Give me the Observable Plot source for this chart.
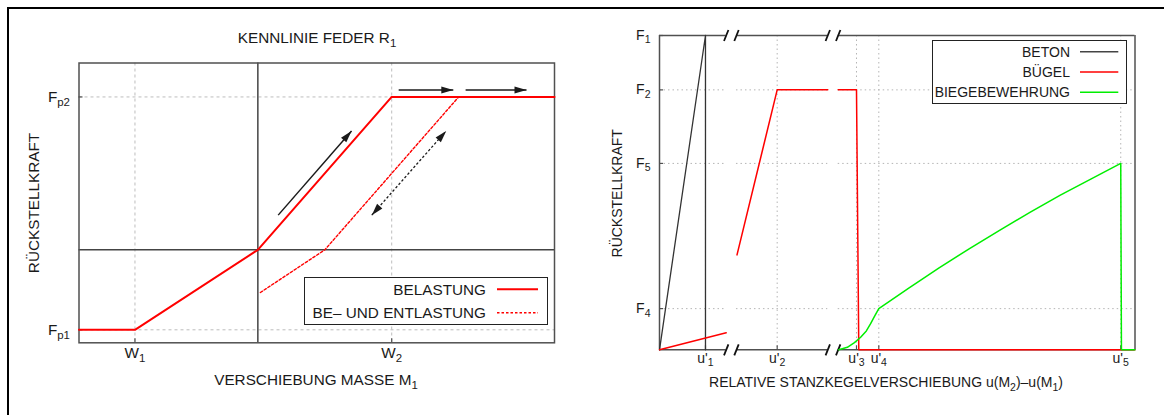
<!DOCTYPE html>
<html>
<head>
<meta charset="utf-8">
<script src="https://cdn.jsdelivr.net/npm/d3@7"></script>
<script src="https://cdn.jsdelivr.net/npm/@observablehq/plot@0.6"></script>
<style>
  html, body { margin: 0; padding: 0; background: #fff; }
  #page { position: relative; width: 1164px; height: 415px; overflow: hidden; background: #fff;
          font-family: "Liberation Sans", Arial, Helvetica, sans-serif; }
  #border { position: absolute; left: 7px; top: 7px; right: -10px; bottom: -10px;
            border-top: 2px solid #000; border-left: 2px solid #000; pointer-events: none; }
  #left, #right { position: absolute; top: 0; }
  #left { left: 0; }
  #right { left: 580px; }
  svg { display: block; }
</style>
</head>
<body>
<div id="page">
  <div id="left"></div>
  <div id="right"></div>
  <div id="border"></div>
</div>
<script>
// ---------- Kennlinie Feder R1 (displacement unit: W2 = 1, force unit: Fp2 = 1) ----------
const W1 = -0.918, W2 = 1;
const Fp1 = -0.523, Fp2 = 1;
const leftXDomain = [-1.336, 2.216];
const leftYDomain = [-0.608, 1.222];
const leftXTicks = [W1, W2];
const leftXTickLabels = ["W_1", "W_2"];
const leftYTicks = [Fp1, Fp2];
const leftYTickLabels = ["F_{p1}", "F_{p2}"];
// Belastung (loading path)
const belastungX = [-1.336, W1, 0, W2, 2.216];
const belastungY = [Fp1, Fp1, 0, Fp2, Fp2];
// Be- und Entlastung (loading / unloading path)
const entlastungX = [0.019, 0.5, 1.5];
const entlastungY = [-0.279, 0, 1];
// direction arrows [x1, y1, x2, y2]
const loadArrows = [[0.152, 0.227, 0.70, 0.778], [1.052, 1.046, 1.46, 1.046], [1.552, 1.046, 2.007, 1.046]];
const cycleArrows = [[0.851, 0.227, 1.407, 0.778]];

// ---------- Stanzkegel springs (broken x axis, force F1 = 100) ----------
const rightXDomain = [0, 100];
const rightYDomain = [0, 100];
const rightXTicks = [9.67, 24.75, 41.43, 46.12, 97.0];
const rightXTickLabels = ["u'_1", "u'_2", "u'_3", "u'_4", "u'_5"];
const rightYTicks = [100, 82.7, 59.3, 13.1];
const rightYTickLabels = ["F_1", "F_2", "F_5", "F_4"];
const axisBreaks = [[14.03, 16.19], [35.39, 37.58]];
// Beton
const betonX = [0, 9.67, 9.67];
const betonY = [0, 100, 0];
// Bügel (three pieces separated by the axis breaks)
const buegelPiece = [0, 0, 1, 1, 1, 2, 2, 2, 2];
const buegelX = [0, 14.03, 16.3, 24.75, 35.39, 37.58, 41.43, 41.91, 100];
const buegelY = [0, 5.4, 30.2, 82.7, 82.7, 82.7, 82.7, 0, 0];
// Biegebewehrung
const biegeX = [37.71, 39.5, 41.0, 42.3, 43.5, 44.4, 45.3, 46.12, 52.5, 58.8, 65.2, 71.6, 77.9, 84.3, 90.7, 97.0, 97.15, 100];
const biegeY = [0, 0.8, 2.3, 4.0, 6.0, 8.3, 10.9, 13.1, 19.7, 26.1, 32.2, 38.1, 43.7, 49.2, 54.3, 59.3, 0, 0];

// ---------- styling ----------
const ink = "#1a1a1a";
const frameInk = "#505050";
const red = "#ff0000";
const green = "#00ee00";
const fontFamily = '"Liberation Sans", Arial, Helvetica, sans-serif';

const zip = (xs, ys, extra = {}) => xs.map((x, i) => {
  const o = {x, y: ys[i]};
  for (const k in extra) o[k] = extra[k][i];
  return o;
});
const labelled = (vals, labels, key) => vals.map((v, i) => ({[key]: v, label: labels[i]}));

// filled arrow head used as a line marker
function arrowHead(color) {
  const m = d3.create("svg:marker")
    .attr("viewBox", "-12 -3.5 12 7")
    .attr("markerWidth", 12)
    .attr("markerHeight", 7)
    .attr("markerUnits", "userSpaceOnUse")
    .attr("refX", 0)
    .attr("refY", 0)
    .attr("orient", "auto-start-reverse")
    .attr("overflow", "visible");
  m.append("path").attr("d", "M-12,-3.5L0,0L-12,3.5Z").attr("fill", color).attr("stroke", "none");
  return m.node();
}

// short slanted stroke marking an axis break
const slashSymbol = {
  draw(context) {
    context.moveTo(-2.2, 5.5);
    context.lineTo(2.2, -5.5);
  }
};

// turn "X_1" / "X_{p2}" into real subscripts
function applySubscripts(svg, shift) {
  d3.select(svg).selectAll("text").each(function () {
    const t = this.textContent;
    if (!t.includes("_")) return;
    const parts = t.split(/(_\{[^}]*\}|_.)/).filter(s => s !== "");
    const el = d3.select(this);
    el.text(null);
    let lowered = false;
    for (const p of parts) {
      if (p.startsWith("_")) {
        const s = p.startsWith("_{") ? p.slice(2, -1) : p.slice(1);
        el.append("tspan").attr("font-size", "0.75em").attr("dy", lowered ? 0 : shift).text(s);
        lowered = true;
      } else {
        el.append("tspan").attr("dy", lowered ? -shift : 0).text(p);
        lowered = false;
      }
    }
  });
}

function addText(svg, {x, y, text, size, anchor = "middle", rotate = 0}) {
  d3.select(svg).append("text")
    .attr("transform", `translate(${x},${y})` + (rotate ? ` rotate(${rotate})` : ""))
    .attr("text-anchor", anchor)
    .attr("font-size", size)
    .attr("fill", ink)
    .text(text);
}

function drawLegend(svg, box, rows, size) {
  const g = d3.select(svg).append("g");
  g.append("rect")
    .attr("x", box.x).attr("y", box.y).attr("width", box.w).attr("height", box.h)
    .attr("fill", "#fff").attr("stroke", "#222").attr("stroke-width", 1);
  for (const r of rows) {
    g.append("text")
      .attr("x", box.textEnd).attr("y", r.y + 0.355 * size)
      .attr("text-anchor", "end").attr("font-size", size).attr("fill", ink)
      .text(r.label);
    g.append("line")
      .attr("x1", box.s1).attr("x2", box.s2).attr("y1", r.y).attr("y2", r.y)
      .attr("stroke", r.color).attr("stroke-width", r.width)
      .attr("stroke-dasharray", r.dash || null);
  }
}

// ================= left chart =================
{
  const L = {w: 580, h: 415, ml: 78.5, mr: 26, mt: 62.5, mb: 72.7};
  const pw = L.w - L.ml - L.mr, ph = L.h - L.mt - L.mb;
  const fs = 15.3;
  const svg = Plot.plot({
    width: L.w, height: L.h,
    marginLeft: L.ml, marginRight: L.mr, marginTop: L.mt, marginBottom: L.mb,
    x: {domain: leftXDomain, axis: null},
    y: {domain: leftYDomain, axis: null},
    style: {fontFamily, background: "transparent", color: ink, overflow: "visible"},
    marks: [
      Plot.ruleX(leftXTicks, {stroke: "#bdbdbd", strokeWidth: 1, strokeDasharray: "3,3"}),
      Plot.ruleY(leftYTicks, {stroke: "#bdbdbd", strokeWidth: 1, strokeDasharray: "3,3"}),
      Plot.ruleX([0], {stroke: "#444", strokeWidth: 1.5}),
      Plot.ruleY([0], {stroke: "#444", strokeWidth: 1.5}),
      Plot.frame({stroke: frameInk, strokeWidth: 1.5}),
      Plot.ruleX(leftXTicks, {stroke: frameInk, strokeWidth: 1.2, insetTop: ph - 4}),
      Plot.ruleY(leftYTicks, {stroke: frameInk, strokeWidth: 1.2, insetRight: pw - 4}),
      Plot.line(zip(belastungX, belastungY), {x: "x", y: "y", stroke: red, strokeWidth: 2}),
      Plot.line(zip(entlastungX, entlastungY), {x: "x", y: "y", stroke: red, strokeWidth: 1.4, strokeDasharray: "2.5,2"}),
      Plot.link(loadArrows, {x1: d => d[0], y1: d => d[1], x2: d => d[2], y2: d => d[3],
        stroke: ink, strokeWidth: 1.5, markerEnd: arrowHead}),
      Plot.link(cycleArrows, {x1: d => d[0], y1: d => d[1], x2: d => d[2], y2: d => d[3],
        stroke: ink, strokeWidth: 1.3, strokeDasharray: "2.5,2", markerStart: arrowHead, markerEnd: arrowHead}),
      Plot.text(labelled(leftXTicks, leftXTickLabels, "x"), {x: "x", text: "label", frameAnchor: "bottom",
        dy: 15.5, fontSize: fs, fill: ink}),
      Plot.text(labelled(leftYTicks, leftYTickLabels, "y"), {y: "y", text: "label", frameAnchor: "left",
        textAnchor: "end", dx: -9, fontSize: fs, fill: ink})
    ]
  });
  addText(svg, {x: 317, y: 43.3, text: "KENNLINIE FEDER R_1", size: fs});
  addText(svg, {x: 316, y: 385, text: "VERSCHIEBUNG MASSE M_1", size: fs});
  addText(svg, {x: 39, y: 203, text: "RÜCKSTELLKRAFT", size: fs, rotate: -90});
  drawLegend(svg, {x: 304.5, y: 277.5, w: 243, h: 47, textEnd: 486, s1: 497, s2: 538}, [
    {label: "BELASTUNG", y: 289.3, color: red, width: 2},
    {label: "BE– UND ENTLASTUNG", y: 312.8, color: red, width: 1.4, dash: "2.5,2"}
  ], fs);
  applySubscripts(svg, 4);
  document.getElementById("left").appendChild(svg);
}

// ================= right chart =================
{
  const R = {w: 584, h: 415, ml: 79, mr: 29.5, mt: 35, mb: 65.7};
  const pw = R.w - R.ml - R.mr, ph = R.h - R.mt - R.mb;
  const fs = 14;
  const [xmin, xmax] = rightXDomain;
  const [ymin, ymax] = rightYDomain;
  // continuous pieces of the broken axis
  const pieces = [];
  let start = xmin;
  for (const [a, b] of axisBreaks) { pieces.push([start, a]); start = b; }
  pieces.push([start, xmax]);
  const gridRows = rightYTicks.filter(v => v !== ymax).flatMap(y => pieces.map(([a, b]) => ({y, a, b})));
  const slashes = axisBreaks.flatMap(([a, b]) => [a, b]).flatMap(x => [{x, y: ymin}, {x, y: ymax}]);

  const svg = Plot.plot({
    width: R.w, height: R.h,
    marginLeft: R.ml, marginRight: R.mr, marginTop: R.mt, marginBottom: R.mb,
    x: {domain: rightXDomain, axis: null},
    y: {domain: rightYDomain, axis: null},
    style: {fontFamily, background: "transparent", color: ink, overflow: "visible"},
    marks: [
      Plot.ruleX(rightXTicks, {stroke: "#b5b5b5", strokeWidth: 1, strokeDasharray: "1.5,3"}),
      Plot.ruleY(gridRows, {y: "y", x1: "a", x2: "b", stroke: "#b5b5b5", strokeWidth: 1, strokeDasharray: "1.5,3"}),
      // frame: solid sides, broken top and bottom
      Plot.ruleX([xmin, xmax], {stroke: frameInk, strokeWidth: 1.5}),
      Plot.ruleY(pieces, {x1: d => d[0], x2: d => d[1], y: ymin, stroke: frameInk, strokeWidth: 1.5}),
      Plot.ruleY(pieces, {x1: d => d[0], x2: d => d[1], y: ymax, stroke: frameInk, strokeWidth: 1.5}),
      Plot.ruleX(rightXTicks, {stroke: frameInk, strokeWidth: 1.2, insetTop: ph - 4}),
      Plot.ruleY(rightYTicks, {stroke: frameInk, strokeWidth: 1.2, insetRight: pw - 4}),
      Plot.dot(slashes, {x: "x", y: "y", symbol: slashSymbol, fill: "none", stroke: "#111", strokeWidth: 1.8}),
      Plot.line(zip(betonX, betonY), {x: "x", y: "y", stroke: "#333", strokeWidth: 1.3}),
      Plot.line(zip(buegelX, buegelY, {piece: buegelPiece}), {x: "x", y: "y", z: "piece", stroke: red, strokeWidth: 1.5}),
      Plot.line(zip(biegeX, biegeY), {x: "x", y: "y", stroke: green, strokeWidth: 1.5}),
      Plot.text(labelled(rightXTicks, rightXTickLabels, "x"), {x: "x", text: "label", frameAnchor: "bottom",
        dy: 13, fontSize: fs, fill: ink}),
      Plot.text(labelled(rightYTicks, rightYTickLabels, "y"), {y: "y", text: "label", frameAnchor: "left",
        textAnchor: "end", dx: -9, fontSize: fs, fill: ink})
    ]
  });
  addText(svg, {x: 306, y: 387, text: "RELATIVE STANZKEGELVERSCHIEBUNG u(M_2)–u(M_1)", size: fs});
  addText(svg, {x: 42, y: 193.3, text: "RÜCKSTELLKRAFT", size: fs, rotate: -90});
  drawLegend(svg, {x: 352.5, y: 40.5, w: 194, h: 63, textEnd: 490, s1: 500, s2: 538.3}, [
    {label: "BETON", y: 51.7, color: "#444", width: 1.5},
    {label: "BÜGEL", y: 71.9, color: red, width: 1.5},
    {label: "BIEGEBEWEHRUNG", y: 92.3, color: green, width: 1.5}
  ], fs);
  applySubscripts(svg, 3.5);
  document.getElementById("right").appendChild(svg);
}
</script>
</body>
</html>
